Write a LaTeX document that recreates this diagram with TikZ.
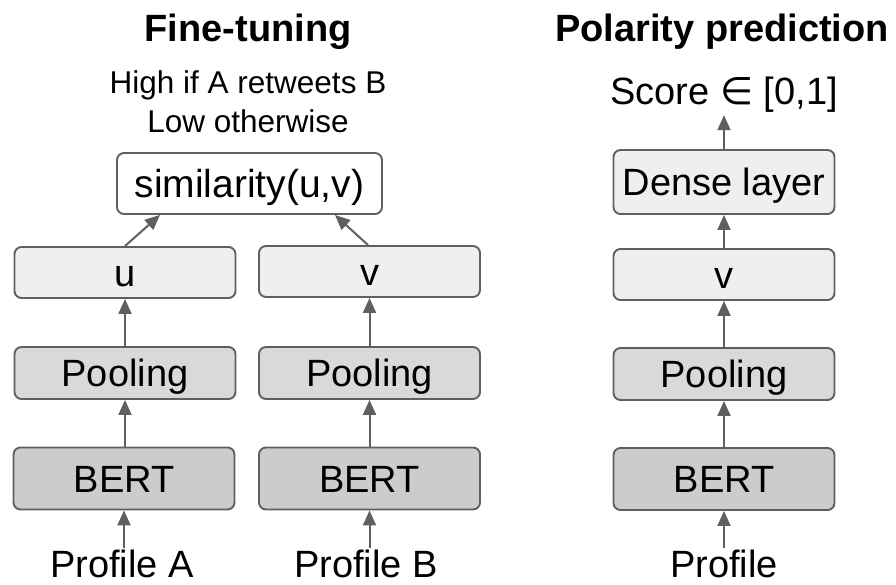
\documentclass[tikz,border=0pt]{standalone}
\usepackage{fontspec}
\setmainfont{Liberation Sans}
\newfontfamily\symfont{DejaVu Sans}
\usetikzlibrary{arrows.meta}
\definecolor{edgegray}{HTML}{5F5F5F}
\definecolor{bertfill}{HTML}{CCCCCC}
\definecolor{poolfill}{HTML}{D9D9D9}
\definecolor{vecfill}{HTML}{EFEFEF}
\begin{document}
\begin{tikzpicture}[x=1pt,y=-1pt,
  box/.style={draw=edgegray, line width=1.9pt, rounded corners=7pt, inner sep=0pt,
    font=\fontsize{38}{45}\selectfont, text height=27pt, text depth=0pt},
  bertbox/.style={box, fill=bertfill, minimum width=221pt, minimum height=62pt},
  poolbox/.style={box, fill=poolfill, minimum width=221pt, minimum height=52pt},
  vecbox/.style={box, fill=vecfill, minimum width=221pt, minimum height=51pt},
  lbl/.style={inner sep=2pt, font=\fontsize{38}{45}\selectfont, anchor=base, text depth=0pt},
  small/.style={inner sep=0pt, font=\fontsize{31.5}{37}\selectfont, anchor=base},
  ttl/.style={inner sep=0pt, font=\fontsize{38}{44}\selectfont\bfseries, anchor=base},
  arr/.style={draw=edgegray, line width=2pt, -{Triangle[length=15pt,width=13pt]}}]
\useasboundingbox (0,0) rectangle (896,585);

% titles
\node[ttl] (t1) at (248,42) {Fine-tuning};
\node[ttl] (t2) at (722,42) {Polarity prediction};

% fine-tuning column
\node[small] (hi) at (248,94) {High if A retweets B};
\node[small] (lo) at (248,133) {Low otherwise};
\node[box, fill=white, minimum width=265pt, minimum height=61pt,
      font=\fontsize{39}{46}\selectfont, text height=28pt] (sim) at (249.5,183.5) {similarity(u,v)};

\node[vecbox] (uL) at (125,272.5) {u};
\node[vecbox] (vL) at (369.5,271.5) {v};
\node[poolbox] (pL) at (125,373) {Pooling};
\node[poolbox] (pR) at (369.5,373) {Pooling};
\node[bertbox] (bL) at (124,478.5) {BERT};
\node[bertbox] (bR) at (369.5,478.5) {BERT};
\node[lbl] (prA) at (122,577.5) {Profile A};
\node[lbl] (prB) at (366,577.5) {Profile B};

\draw[arr] (prA.north -| bL) -- (bL.south);
\draw[arr] (prB.north -| bR) -- (bR.south);
\draw[arr] (bL.north -| pL) -- (pL.south);
\draw[arr] (bR.north) -- (pR.south);
\draw[arr] (pL.north) -- (uL.south);
\draw[arr] (pR.north) -- (vL.south);
\coordinate (sa) at (160,214);
\coordinate (sb) at (335,214);
\draw[arr] (uL.north) -- (sim.south -| sa);
\draw[arr] (vL.north -| 368,0) -- (sim.south -| sb);

% polarity column
\node[lbl, font=\fontsize{38}{45}\selectfont, text depth=8pt, inner sep=2pt] (sc) at (724,105) {Score {\symfont ∈} [0,1]};
\node[vecbox, minimum height=64pt] (dn) at (724,182) {Dense layer};
\node[vecbox] (vv) at (724,274.5) {v};
\node[poolbox] (pp) at (724,374) {Pooling};
\node[bertbox] (bb) at (724,479) {BERT};
\node[lbl] (pr) at (724,577.5) {Profile};

\draw[arr] (pr.north) -- (bb.south);
\draw[arr] (bb.north) -- (pp.south);
\draw[arr] (pp.north) -- (vv.south);
\draw[arr] (vv.north) -- (dn.south);
\draw[arr] (dn.north) -- (dn.north |- sc.south);
\end{tikzpicture}
\end{document}
